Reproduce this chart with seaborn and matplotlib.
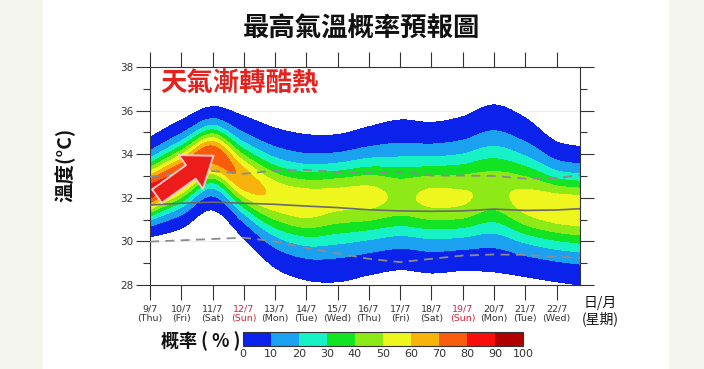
import numpy as np
import matplotlib
matplotlib.use("Agg")
import matplotlib.pyplot as plt
import seaborn as sns
from matplotlib.colors import ListedColormap, BoundaryNorm
from matplotlib.cm import ScalarMappable
from matplotlib.patches import Rectangle

# forecast days (0 = 9/7), last node is the right edge of the plot
days = [0, 1, 2, 3, 4, 5, 6, 7, 8, 9, 10, 11, 12, 13, 13.75]
dates = ["9/7", "10/7", "11/7", "12/7", "13/7", "14/7", "15/7",
         "16/7", "17/7", "18/7", "19/7", "20/7", "21/7", "22/7"]
weekdays = ["Thu", "Fri", "Sat", "Sun", "Mon", "Tue", "Wed",
            "Thu", "Fri", "Sat", "Sun", "Mon", "Tue", "Wed"]

# most likely max temperature, its probability, and edges of the plume
mode_t = [32.25, 33.1, 34.0, 32.85, 32.1, 31.8, 32.0, 32.05, 32.0, 32.0, 32.0, 32.3, 31.8, 31.55, 31.47]
peak_p = [86, 80, 78, 67, 58, 57, 54, 54, 48, 52.5, 51.5, 47, 54, 58, 59]
env_top = [34.78, 35.57, 36.18, 35.75, 35.2, 34.9, 34.9, 35.26, 35.57, 35.46, 35.72, 36.26, 35.66, 34.57, 34.34]
env_bot = [30.2, 30.6, 31.44, 30.15, 28.8, 28.23, 28.15, 28.46, 28.7, 28.55, 28.66, 28.6, 28.38, 28.15, 28.0]

# climate lines
mid_line = [31.67, 31.75, 31.8, 31.75, 31.7, 31.62, 31.55, 31.45, 31.4, 31.38, 31.4, 31.48, 31.42, 31.44, 31.5]
upper_dash = [32.97, 33.1, 33.23, 33.1, 33.25, 33.28, 33.18, 33.12, 33.2, 33.02, 33.02, 33.0, 32.88, 32.9, 33.05]
lower_dash = [29.99, 30.05, 30.11, 30.17, 30.0, 29.7, 29.45, 29.2, 29.05, 29.2, 29.35, 29.4, 29.38, 29.3, 29.25]

prob_levels = [0, 10, 20, 30, 40, 50, 60, 70, 80, 90, 100]
prob_colors = ["#0a22ea", "#1aa2f0", "#16f2c6", "#12e424", "#8eea16",
               "#eef61e", "#f8b20c", "#f85c0c", "#f80c0c", "#b00000"]


def smooth(xn, yn, xs):
    xn = np.asarray(xn, float)
    yn = np.asarray(yn, float)
    m = np.gradient(yn, xn)
    i = np.clip(np.searchsorted(xn, xs) - 1, 0, len(xn) - 2)
    h = xn[i + 1] - xn[i]
    t = (xs - xn[i]) / h
    return ((2 * t**3 - 3 * t**2 + 1) * yn[i] + (t**3 - 2 * t**2 + t) * h * m[i]
            + (-2 * t**3 + 3 * t**2) * yn[i + 1] + (t**3 - t**2) * h * m[i + 1])


sns.set_style("ticks")
plt.rcParams["font.family"] = ["DejaVu Sans", "Noto Sans CJK TC"]
cjk = ["Noto Sans CJK TC", "DejaVu Sans"]

fig = plt.figure(figsize=(7.04, 3.69), dpi=100, facecolor="#f3f5ee")
fig.patches.append(Rectangle((43 / 704, 0), 625 / 704, 1, transform=fig.transFigure,
                             color="white", zorder=-10))
ax = fig.add_axes([150 / 704, 1 - 285 / 369, 430 / 704, 218 / 369])

# probability field
xs = np.linspace(0, days[-1], 400)
ts = np.linspace(27.5, 38.5, 500)
c = smooth(days, mode_t, xs)
pk = smooth(days, peak_p, xs)
top = smooth(days, env_top, xs)
bot = smooth(days, env_bot, xs)
cut = 2.0
k = np.sqrt(2 * np.log(pk / cut))
s_up = (top - c) / k
s_dn = (c - bot) / k
X, T = np.meshgrid(xs, ts)
S = np.where(T > c, s_up, s_dn)
P = pk * np.exp(-0.5 * ((T - c) / S) ** 2)
ax.contourf(X, T, P, levels=[cut] + prob_levels[1:], colors=prob_colors, zorder=1)

sns.lineplot(x=days, y=mid_line, ax=ax, color="#6a6a6a", lw=1.2, zorder=3)
sns.lineplot(x=days, y=upper_dash, ax=ax, color="#8c8c8c", lw=1.3, ls=(0, (5, 3.5)), zorder=3)
sns.lineplot(x=days, y=lower_dash, ax=ax, color="#8c8c8c", lw=1.3, ls=(0, (5, 3.5)), zorder=3)

ax.set_xlim(0, days[-1])
ax.set_ylim(28, 38)
ax.set_yticks(np.arange(28, 39, 2))
ax.set_yticks(np.arange(29, 38, 2), minor=True)
ax.yaxis.grid(True, which="major", color="#eeeeee", lw=0.8, zorder=0)
ax.set_axisbelow(True)
ax.set_xticks(range(len(dates)))
ax.set_xticklabels([f"{d}\n({w})" for d, w in zip(dates, weekdays)],
                   fontsize=6.8, linespacing=1.1)
for lab, w in zip(ax.get_xticklabels(), weekdays):
    lab.set_color("#d0283c" if w == "Sun" else "#333333")
ax.tick_params(axis="x", which="both", direction="out", length=11, width=0.8,
               top=True, bottom=True, pad=3, color="#333333")
ax.tick_params(axis="y", which="major", direction="out", length=10, width=0.8,
               left=True, right=True, labelsize=7.5, labelcolor="#333333", pad=2,
               color="#333333")
ax.tick_params(axis="y", which="minor", direction="out", length=5, width=0.8,
               left=True, right=True, color="#333333")
for sp in ax.spines.values():
    sp.set_visible(True)
    sp.set_color("#333333")
    sp.set_linewidth(0.8)
ax.set_xlabel("")
ax.set_ylabel("")

# arrow and headline
ax.annotate("", xy=(2.1, 34.0), xytext=(0.15, 32.0),
            arrowprops=dict(arrowstyle="simple,head_length=1.0,head_width=1.5,tail_width=0.6",
                            fc="#ec1c1a", ec="#ffc8c0", lw=1.4, mutation_scale=20),
            zorder=5)
fig.text(160 / 704, 1 - 84 / 369, "天氣漸轉酷熱", color="#e4231f", fontsize=19,
         fontweight="bold", family=cjk, ha="left", va="center")

fig.text(362 / 704, 1 - 29 / 369, "最高氣溫概率預報圖", fontsize=19,
         fontweight="bold", family=cjk, ha="center", va="center", color="#111111")
fig.text(65 / 704, 1 - 165 / 369, "溫度(°C)", rotation=90, fontsize=14,
         fontweight="bold", family=cjk, ha="center", va="center", color="#111111")
fig.text(600 / 704, 1 - 311 / 369, "日/月\n(星期)", fontsize=10, family=cjk,
         ha="center", va="center", linespacing=1.1, color="#111111")

# colour bar
cax = fig.add_axes([243 / 704, 1 - 346 / 369, 280 / 704, 14 / 369])
cmap = ListedColormap(prob_colors)
norm = BoundaryNorm(prob_levels, cmap.N)
cb = fig.colorbar(ScalarMappable(norm=norm, cmap=cmap), cax=cax, orientation="horizontal",
                  ticks=prob_levels)
cb.outline.set_edgecolor("#333333")
cb.outline.set_linewidth(0.8)
cax.tick_params(length=0, labelsize=8, labelcolor="#333333", pad=2)
fig.text(240 / 704, 1 - 341 / 369, "概率 ( % )", fontsize=13, fontweight="bold",
         family=cjk, ha="right", va="center", color="#111111")

fig.savefig("out.png", dpi=100, facecolor=fig.get_facecolor())
